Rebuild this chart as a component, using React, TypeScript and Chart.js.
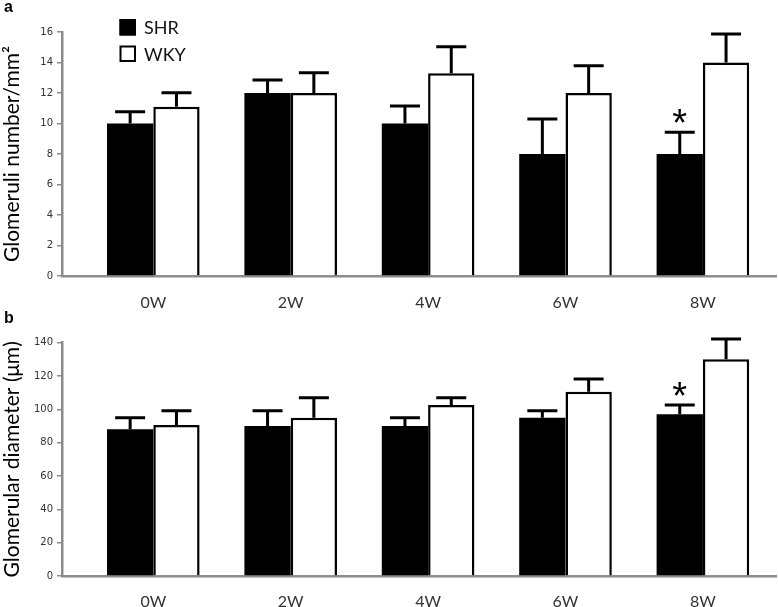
import React, { useEffect, useRef } from 'react';
import { Chart, registerables } from 'chart.js';

Chart.register(...registerables);

// ---------- data ----------
const weeks = ['0W', '2W', '4W', '6W', '8W'];
const seriesLabels = ['SHR', 'WKY'];

const shrGlomeruliNumber = [10, 12, 10, 8, 8];
const shrGlomeruliNumberSem = [0.77, 0.85, 1.15, 2.3, 1.42];
const wkyGlomeruliNumber = [11.1, 12, 13.3, 12, 14];
const wkyGlomeruliNumberSem = [0.92, 1.33, 1.74, 1.79, 1.87];

const shrDiameter = [88, 90, 90, 95, 97];
const shrDiameterSem = [7, 9.2, 5, 4.2, 5.6];
const wkyDiameter = [90.6, 95, 102.6, 110.6, 130];
const wkyDiameterSem = [8.6, 12, 4.4, 7.6, 12.2];

const shrSignificance = ['', '', '', '', '*'];
const wkySignificance = ['', '', '', '', ''];

const numberTicks = [0, 2, 4, 6, 8, 10, 12, 14, 16];
const diameterTicks = [0, 20, 40, 60, 80, 100, 120, 140];

const numberTitle = 'Glomeruli number/mm\u00B2';
const diameterTitle = 'Glomerular diameter (\u03BCm)';

// ---------- drawing helpers ----------
const overlayPlugin = {
  id: 'overlay',
  afterDraw(chart: any, _args: any, opts: any) {
    const { ctx } = chart;
    const yScale = chart.scales.y;
    ctx.save();
    chart.data.datasets.forEach((ds: any, di: number) => {
      const meta = chart.getDatasetMeta(di);
      meta.data.forEach((bar: any, i: number) => {
        const value = ds.data[i].y;
        const err = ds.sem[i];
        const topPx = yScale.getPixelForValue(value + err);
        ctx.strokeStyle = '#000';
        ctx.lineWidth = 3;
        ctx.lineCap = 'butt';
        ctx.beginPath();
        ctx.moveTo(bar.x, bar.y);
        ctx.lineTo(bar.x, topPx);
        ctx.moveTo(bar.x - 15, topPx);
        ctx.lineTo(bar.x + 15, topPx);
        ctx.stroke();
        const mark = ds.significance ? ds.significance[i] : '';
        if (mark) {
          ctx.font = '38px "Liberation Sans"';
          ctx.fillStyle = '#000';
          ctx.textAlign = 'center';
          ctx.textBaseline = 'alphabetic';
          const m = ctx.measureText(mark);
          const cy = topPx - 16;
          ctx.fillText(mark, bar.x, cy + (m.actualBoundingBoxAscent - m.actualBoundingBoxDescent) / 2);
        }
      });
    });

    if (opts.legend) {
      const lx = 119.5;
      const ly = 19;
      const size = 16.5;
      const gap = 26.5;
      chart.data.datasets.forEach((ds: any, di: number) => {
        const y0 = ly + di * gap;
        ctx.fillStyle = ds.backgroundColor;
        ctx.fillRect(lx, y0, size, size);
        ctx.strokeStyle = '#000';
        ctx.lineWidth = 2;
        ctx.strokeRect(lx + 1, y0 + 1, size - 2, size - 2);
        ctx.fillStyle = '#111';
        ctx.font = '18px Lato';
        ctx.textAlign = 'left';
        ctx.textBaseline = 'middle';
        ctx.fillText(ds.label, 144, y0 + size / 2 + 1);
      });
    }

    if (opts.letter) {
      ctx.fillStyle = '#000';
      ctx.font = 'bold 16px "Liberation Sans"';
      ctx.textAlign = 'left';
      ctx.textBaseline = 'alphabetic';
      ctx.fillText(opts.letter, 4, opts.letterBaseline);
    }
    ctx.restore();
  },
};

function buildConfig(p: any) {
  const toPoints = (vals: number[]) => vals.map((v, i) => ({ x: i, y: v }));
  const ticks: number[] = p.ticks;
  return {
    type: 'bar',
    data: {
      datasets: [
        {
          label: seriesLabels[0],
          data: toPoints(p.shr),
          sem: p.shrSem,
          significance: shrSignificance,
          backgroundColor: '#000',
          borderColor: '#000',
          borderWidth: 0,
        },
        {
          label: seriesLabels[1],
          data: toPoints(p.wky),
          sem: p.wkySem,
          significance: wkySignificance,
          backgroundColor: '#fff',
          borderColor: '#000',
          borderWidth: 2.5,
        },
      ],
    },
    options: {
      responsive: false,
      animation: false,
      events: [],
      categoryPercentage: 0.674,
      barPercentage: 1,
      layout: { padding: { top: p.areaTop, right: 2, left: 0, bottom: 0 } },
      scales: {
        x: {
          type: 'linear',
          min: -0.6645,
          max: 4.532,
          offset: false,
          z: 1,
          afterFit: (s: any) => {
            s.height = p.xAxisHeight;
          },
          border: { display: true, color: '#8c8c8c', width: 2.5 },
          grid: { display: true, offset: false, drawOnChartArea: false, drawTicks: false, color: 'rgba(0,0,0,0)' },
          ticks: {
            stepSize: 1,
            includeBounds: false,
            autoSkip: false,
            maxRotation: 0,
            padding: p.labelPad,
            color: '#333',
            font: { family: 'Lato', size: 16 },
            callback: (v: number) => (Number.isInteger(v) && weeks[v] !== undefined ? weeks[v] : ''),
          },
        },
        y: {
          min: ticks[0],
          max: ticks[ticks.length - 1],
          afterFit: (s: any) => {
            s.width = 62;
          },
          border: { display: true, color: '#8c8c8c', width: 2.5 },
          grid: { drawOnChartArea: false, drawTicks: true, tickLength: 5, color: '#8c8c8c', lineWidth: 1.5 },
          ticks: {
            stepSize: ticks[1] - ticks[0],
            padding: 4,
            color: '#333',
            font: { family: 'DejaVu Sans', size: 10 },
          },
          title: {
            display: true,
            text: p.title,
            color: '#000',
            font: { family: 'Lato', size: 21 },
            padding: { top: 0, bottom: 0 },
          },
        },
      },
      plugins: {
        legend: { display: false },
        tooltip: { enabled: false },
        overlay: { letter: p.letter, letterBaseline: p.letterBaseline, legend: p.legend },
      },
    },
    plugins: [overlayPlugin],
  };
}

function BarPanel(props: { top: number; height: number; config: any }) {
  const ref = useRef<HTMLCanvasElement>(null);
  useEffect(() => {
    const chart = new Chart(ref.current as HTMLCanvasElement, props.config as any);
    return () => chart.destroy();
  }, []);
  return (
    <canvas
      ref={ref}
      width={778}
      height={props.height}
      style={{ position: 'absolute', left: 0, top: props.top, width: 778, height: props.height }}
    />
  );
}

export default function App() {
  const configA = buildConfig({
    shr: shrGlomeruliNumber,
    shrSem: shrGlomeruliNumberSem,
    wky: wkyGlomeruliNumber,
    wkySem: wkyGlomeruliNumberSem,
    ticks: numberTicks,
    title: numberTitle,
    letter: 'a',
    letterBaseline: 12,
    legend: true,
    areaTop: 32,
    xAxisHeight: 44,
    labelPad: 17,
  });
  const configB = buildConfig({
    shr: shrDiameter,
    shrSem: shrDiameterSem,
    wky: wkyDiameter,
    wkySem: wkyDiameterSem,
    ticks: diameterTicks,
    title: diameterTitle,
    letter: 'b',
    letterBaseline: 13,
    legend: false,
    areaTop: 32.7,
    xAxisHeight: 31,
    labelPad: 16,
  });
  return (
    <div style={{ position: 'absolute', left: 0, top: 0, width: 778, height: 607, background: '#fff' }}>
      <BarPanel top={0} height={320} config={configA} />
      <BarPanel top={310} height={297} config={configB} />
    </div>
  );
}
